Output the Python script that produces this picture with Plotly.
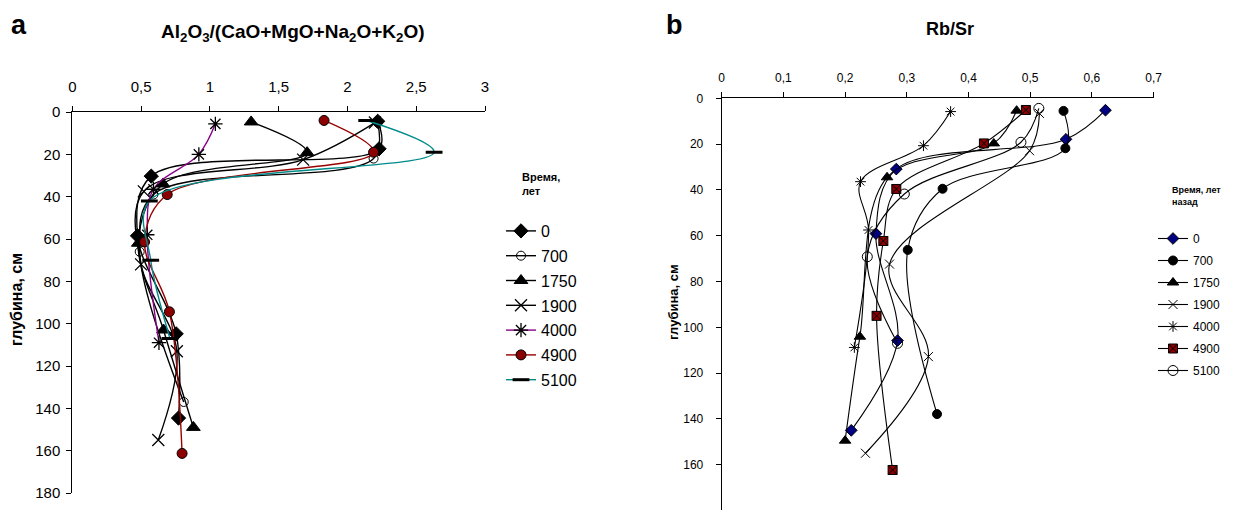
import plotly.graph_objects as go

# ---------------- data ----------------
SERIES = ["0", "700", "1750", "1900", "4000", "4900", "5100"]

# panel a: Al2O3/(CaO+MgO+Na2O+K2O)
A_DEPTH_0 = [4.4, 17.4, 30.3, 58.5, 104.8, 144.6]
A_VAL_0 = [2.22, 2.23, 0.574, 0.474, 0.755, 0.772]
A_DEPTH_700 = [5, 22, 39, 66, 137]
A_VAL_700 = [2.22, 2.19, 0.59, 0.49, 0.81]
A_DEPTH_1750 = [4.7, 19.2, 34, 62, 103, 149]
A_VAL_1750 = [1.30, 1.707, 0.66, 0.48, 0.663, 0.88]
A_DEPTH_1900 = [5, 22.5, 37.5, 72, 113, 155]
A_VAL_1900 = [2.2, 1.678, 0.52, 0.50, 0.76, 0.625]
A_DEPTH_4000 = [5.6, 20, 36.5, 58, 109]
A_VAL_4000 = [1.04, 0.92, 0.59, 0.545, 0.63]
A_DEPTH_4900 = [4, 19, 39, 61.4, 94.4, 161.3]
A_VAL_4900 = [1.83, 2.19, 0.69, 0.525, 0.706, 0.798]
A_DEPTH_5100 = [4, 19, 42, 70, 107]
A_VAL_5100 = [2.14, 2.63, 0.56, 0.57, 0.71]

# panel b: Rb/Sr
B_DEPTH_0 = [5.2, 17.9, 30.9, 59.1, 105.8, 145]
B_VAL_0 = [0.622, 0.558, 0.283, 0.250, 0.285, 0.21]
B_DEPTH_700 = [5.5, 21.8, 39.5, 66.2, 137.9]
B_VAL_700 = [0.554, 0.557, 0.358, 0.3015, 0.349]
B_DEPTH_1750 = [5.4, 19.7, 34.5, 104.1, 149.5]
B_VAL_1750 = [0.478, 0.441, 0.268, 0.224, 0.2]
B_DEPTH_1900 = [6.6, 22.9, 72.4, 112.8, 155]
B_VAL_1900 = [0.515, 0.499, 0.272, 0.335, 0.233]
B_DEPTH_4000 = [5.8, 20.7, 36.4, 57.5, 108.8]
B_VAL_4000 = [0.371, 0.327, 0.225, 0.238, 0.215]
B_DEPTH_4900 = [5.1, 19.7, 39.6, 62.3, 95, 162.3]
B_VAL_4900 = [0.493, 0.425, 0.283, 0.262, 0.251, 0.277]
B_DEPTH_5100 = [4.4, 19.2, 41.8, 69.2, 107]
B_VAL_5100 = [0.514, 0.485, 0.296, 0.236, 0.285]

A_XTICKS = [0, 0.5, 1, 1.5, 2, 2.5, 3]
A_XTICKTEXT = ["0", "0,5", "1", "1,5", "2", "2,5", "3"]
B_XTICKS = [0, 0.1, 0.2, 0.3, 0.4, 0.5, 0.6, 0.7]
B_XTICKTEXT = ["0", "0,1", "0,2", "0,3", "0,4", "0,5", "0,6", "0,7"]
Y_TICKS = [0, 20, 40, 60, 80, 100, 120, 140, 160, 180]

# ---------------- styles / layout helpers ----------------
FONT = "Liberation Sans, Arial, sans-serif"
OFF = 8                     # default page margin of the html body
W, H = 1234 - OFF, 510 - OFF


def px(x):                  # page pixel -> paper fraction (x)
    return (x - OFF) / W


def py(y):                  # page pixel -> paper fraction (y)
    return 1 - (y - OFF) / H


A_DATA = [(A_VAL_0, A_DEPTH_0), (A_VAL_700, A_DEPTH_700), (A_VAL_1750, A_DEPTH_1750),
          (A_VAL_1900, A_DEPTH_1900), (A_VAL_4000, A_DEPTH_4000), (A_VAL_4900, A_DEPTH_4900),
          (A_VAL_5100, A_DEPTH_5100)]
B_DATA = [(B_VAL_0, B_DEPTH_0), (B_VAL_700, B_DEPTH_700), (B_VAL_1750, B_DEPTH_1750),
          (B_VAL_1900, B_DEPTH_1900), (B_VAL_4000, B_DEPTH_4000), (B_VAL_4900, B_DEPTH_4900),
          (B_VAL_5100, B_DEPTH_5100)]

A_STYLE = [
    dict(line="black", symbol="diamond", size=11, color="black", mline="black", mw=1),
    dict(line="black", symbol="circle-open", size=9, color="black", mline="black", mw=1),
    dict(line="black", symbol="triangle-up", size=12, color="black", mline="black", mw=1),
    dict(line="black", symbol="x-thin-open", size=12, color="black", mline="black", mw=1.3),
    dict(line="#8B008B", symbol="asterisk-open", size=12, color="black", mline="black", mw=1.3),
    dict(line="#990000", symbol="circle", size=10, color="#8B0000", mline="black", mw=1),
    dict(line="#008B8B", symbol="line-ew-open", size=12, color="black", mline="black", mw=3),
]
B_STYLE = [
    dict(symbol="diamond", size=9, color="#000080", mline="black", mw=1),
    dict(symbol="circle", size=9, color="black", mline="black", mw=1),
    dict(symbol="triangle-up", size=10, color="black", mline="black", mw=1),
    dict(symbol="x-thin-open", size=9, color="black", mline="black", mw=1),
    dict(symbol="asterisk-open", size=9, color="black", mline="black", mw=1),
    dict(symbol="square-x", size=9, color="#8B0000", mline="black", mw=1),
    dict(symbol="circle-open", size=10, color="black", mline="black", mw=1),
]

fig = go.Figure()

for name, (xv, yv), st in zip(SERIES, A_DATA, A_STYLE):
    fig.add_trace(go.Scatter(
        x=xv, y=yv, name=name, mode="lines+markers", legendgroup="a" + name,
        line=dict(color=st["line"], width=1.4, shape="spline", smoothing=1),
        marker=dict(symbol=st["symbol"], size=st["size"], color=st["color"],
                    line=dict(color=st["mline"], width=st["mw"])),
        xaxis="x", yaxis="y", legend="legend"))

for name, (xv, yv), st in zip(SERIES, B_DATA, B_STYLE):
    fig.add_trace(go.Scatter(
        x=xv, y=yv, name=name, mode="lines+markers", legendgroup="b" + name,
        line=dict(color="black", width=1.1, shape="spline", smoothing=1),
        marker=dict(symbol=st["symbol"], size=st["size"], color=st["color"],
                    line=dict(color=st["mline"], width=st["mw"])),
        xaxis="x2", yaxis="y2", legend="legend2"))

axcommon = dict(showline=True, linecolor="black", linewidth=1, ticks="outside",
                ticklen=5, tickcolor="black", showgrid=False, zeroline=False,
                mirror=False, automargin=False)

fig.update_layout(
    width=W, height=H,
    margin=dict(l=0, r=0, t=0, b=0, autoexpand=False),
    paper_bgcolor="white", plot_bgcolor="white",
    font=dict(family=FONT, color="black"),
    xaxis=dict(domain=[px(72.3), px(485)], range=[0, 3], side="top", anchor="y",
               tickvals=A_XTICKS, ticktext=A_XTICKTEXT, tickfont=dict(size=15),
               ticklabelstandoff=8, **axcommon),
    yaxis=dict(domain=[py(493), py(112)], range=[180, 0], anchor="x",
               tickvals=Y_TICKS, tickfont=dict(size=15), ticklabelstandoff=3, **axcommon),
    xaxis2=dict(domain=[px(721.7), px(1153.6)], range=[0, 0.7], side="top", anchor="y2",
                tickvals=B_XTICKS, ticktext=B_XTICKTEXT, tickfont=dict(size=12),
                ticklabelstandoff=6, **axcommon),
    yaxis2=dict(domain=[0, py(98.3)], range=[(510 - 98.3) / 2.29, 0], anchor="x2",
                tickvals=Y_TICKS, tickfont=dict(size=12), ticklabelstandoff=10, **axcommon),
    legend=dict(x=px(501), y=py(214), xanchor="left", yanchor="top",
                font=dict(size=16), itemwidth=30, bgcolor="rgba(0,0,0,0)",
                tracegroupgap=1),
    legend2=dict(x=px(1153), y=py(224), xanchor="left", yanchor="top",
                 font=dict(size=12), itemwidth=30, bgcolor="rgba(0,0,0,0)",
                 tracegroupgap=3),
    showlegend=True,
)

ann = [
    dict(text="<b>a</b>", x=px(19), y=py(8.5), font=dict(size=27), yanchor="top", borderpad=0),
    dict(text="<b>b</b>", x=px(674), y=py(8.5), font=dict(size=27), yanchor="top", borderpad=0),
    dict(text="<b>Al<sub>2</sub>O<sub>3</sub>/(CaO+MgO+Na<sub>2</sub>O+K<sub>2</sub>O)</b>",
         x=px(293), y=py(33), font=dict(size=19)),
    dict(text="<b>Rb/Sr</b>", x=px(950), y=py(29), font=dict(size=18)),
    dict(text="<b>глубина, см</b>", x=px(16), y=py(300), font=dict(size=16), textangle=-90),
    dict(text="<b>глубина, см</b>", x=px(673), y=py(302), font=dict(size=13), textangle=-90),
    dict(text="<b>Время,<br>лет</b>", x=px(520), y=py(169), xanchor="left", yanchor="top",
         align="left", font=dict(size=11)),
    dict(text="<b>Время, лет<br>назад</b>", x=px(1170), y=py(183), xanchor="left", yanchor="top",
         align="left", font=dict(size=9)),
]
for a in ann:
    a.setdefault("xanchor", "center")
    a.setdefault("yanchor", "middle")
    fig.add_annotation(xref="paper", yref="paper", showarrow=False, **a)

fig.write_html("out.html")
